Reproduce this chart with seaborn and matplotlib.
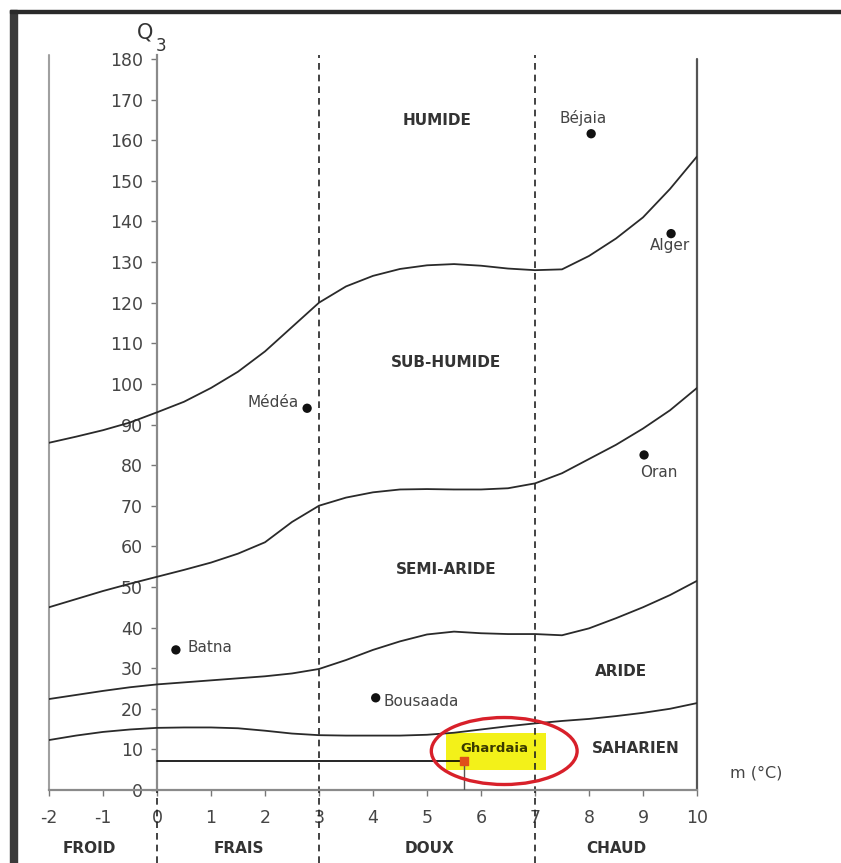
import numpy as np
import pandas as pd
import matplotlib.pyplot as plt
import matplotlib.patches as mpatches
import seaborn as sns

# ==========================================
# DATA (read from the climagramme)
# ==========================================

m_values = [-2, -1.5, -1, -0.5, 0, 0.5, 1, 1.5, 2, 2.5, 3, 3.5, 4, 4.5,
            5, 5.5, 6, 6.5, 7, 7.5, 8, 8.5, 9, 9.5, 10]

limit_humide = [85.5, 87, 88.6, 90.5, 93, 95.6, 99, 103, 108, 114, 120, 124,
                126.6, 128.3, 129.2, 129.5, 129.1, 128.4, 128, 128.2, 131.5,
                135.8, 141, 148, 156]
limit_subhumide = [45, 47, 49, 50.8, 52.5, 54.2, 56, 58.2, 61, 66, 70, 72,
                   73.3, 74, 74.1, 74, 74, 74.3, 75.5, 78, 81.5, 85, 89,
                   93.5, 99]
limit_semiaride = [22.4, 23.4, 24.4, 25.3, 26, 26.5, 27, 27.5, 28, 28.7, 29.8,
                   32, 34.5, 36.6, 38.3, 39, 38.6, 38.4, 38.4, 38.1, 39.8,
                   42.3, 45, 48, 51.5]
limit_aride = [12.3, 13.4, 14.3, 14.9, 15.3, 15.4, 15.4, 15.2, 14.6, 13.9,
               13.5, 13.4, 13.4, 13.4, 13.6, 14.1, 14.9, 15.7, 16.4, 17,
               17.5, 18.2, 19, 20, 21.4]

stations = ["Béjaia", "Alger", "Médéa", "Oran", "Batna", "Bousaada"]
station_m = [8.04, 9.52, 2.78, 9.02, 0.35, 4.05]
station_q = [161.6, 137, 94, 82.5, 34.5, 22.7]

ghardaia_m = 5.68
ghardaia_q = 7.1

zones = ["HUMIDE", "SUB-HUMIDE", "SEMI-ARIDE", "ARIDE", "SAHARIEN"]
zone_m = [5.19, 5.35, 5.35, 8.59, 8.87]
zone_q = [164.8, 105.2, 54.4, 29.1, 10.3]

winters = ["FROID", "FRAIS", "DOUX", "CHAUD"]
winter_m = [-1.26, 1.52, 5.04, 8.5]
winter_bounds = [0, 3, 7]

x_ticks = list(range(-2, 11))
y_ticks = list(range(0, 190, 10))

# ==========================================
# FIGURE
# ==========================================

sns.set_theme(style="ticks")
plt.rcParams["font.family"] = ["DejaVu Sans"]
plt.rcParams["axes.unicode_minus"] = False

W, H = 841, 863
fig = plt.figure(figsize=(W / 100, H / 100), dpi=100)
ax = fig.add_axes([49 / W, (H - 790) / H, (697 - 49) / W, (790 - 59) / H])

curves = pd.DataFrame({
    "m": m_values * 4,
    "Q3": limit_humide + limit_subhumide + limit_semiaride + limit_aride,
    "limite": (["h"] * len(m_values) + ["sh"] * len(m_values)
               + ["sa"] * len(m_values) + ["a"] * len(m_values)),
})

sns.lineplot(data=curves, x="m", y="Q3", units="limite", estimator=None,
             color="#2a2a2a", linewidth=1.3, ax=ax, legend=False, zorder=3)

# Ghardaia highlight
ax.add_patch(mpatches.Rectangle((5.35, 4.9), 1.85, 9.1, facecolor="#f2f000",
                                edgecolor="none", alpha=0.9, zorder=1))
ax.add_patch(mpatches.Ellipse((6.43, 9.6), 2.7, 16.5, facecolor="none",
                              edgecolor="#d8202a", linewidth=2.4, zorder=5,
                              clip_on=False))

# reading lines for Ghardaia
ax.plot([0, ghardaia_m], [ghardaia_q, ghardaia_q], color="black",
        linewidth=1.2, zorder=4)
ax.plot([ghardaia_m, ghardaia_m], [0, ghardaia_q], color="#555555",
        linewidth=1.0, zorder=4)
ax.scatter([ghardaia_m], [ghardaia_q], marker="s", s=30, color="#e0501a",
           zorder=6)
ax.text(6.24, 10.1, "Ghardaia", fontsize=9.5, fontweight="bold",
        color="#3a3a00", ha="center", va="center", zorder=6)

# stations
st = pd.DataFrame({"m": station_m, "Q3": station_q, "station": stations})
sns.scatterplot(data=st, x="m", y="Q3", color="#111111", s=45,
                edgecolor="none", ax=ax, zorder=6, legend=False)

label_pos = {
    "Béjaia": (7.9, 165.5, "center"),
    "Alger": (9.5, 134, "center"),
    "Médéa": (2.63, 95.3, "right"),
    "Oran": (9.3, 78.3, "center"),
    "Batna": (0.56, 35, "left"),
    "Bousaada": (4.2, 21.7, "left"),
}
for name in stations:
    lx, ly, ha = label_pos[name]
    ax.text(lx, ly, name, fontsize=11, color="#444444", ha=ha, va="center")

# zone names
for name, zx, zy in zip(zones, zone_m, zone_q):
    ax.text(zx, zy, name, fontsize=11, fontweight="bold", color="#333333",
            ha="center", va="center")

# winter classes below axis
for name, wx in zip(winters, winter_m):
    ax.text(wx, -14.3, name, fontsize=11, fontweight="bold", color="#333333",
            ha="center", va="center", clip_on=False)

# dashed boundaries
for b in winter_bounds:
    top = 181 if b != 0 else 0
    ax.plot([b, b], [-18, top], color="#222222", linewidth=1.2,
            linestyle=(0, (4, 3)), clip_on=False, zorder=2)

# frame lines of the diagram
ax.plot([-2, -2], [0, 181], color="#a0a0a0", linewidth=1.5, clip_on=False)
ax.plot([10, 10], [0, 180], color="#555555", linewidth=1.6, clip_on=False)

ax.set_xlim(-2, 10)
ax.set_ylim(0, 180)
ax.set_xticks(x_ticks)
ax.set_yticks(y_ticks)
ax.set_xlabel("")
ax.set_ylabel("")

ax.spines["top"].set_visible(False)
ax.spines["right"].set_visible(False)
ax.spines["left"].set_position(("data", 0))
ax.spines["left"].set_bounds(0, 181)
for s in ["left", "bottom"]:
    ax.spines[s].set_color("#8a8a8a")
    ax.spines[s].set_linewidth(1.6)

ax.tick_params(axis="both", colors="#777777", length=4, width=1,
               labelsize=12.5, labelcolor="#454545")
ax.tick_params(axis="x", pad=10)
ax.tick_params(axis="y", pad=6)

# Q3 and m (°C) axis names
ax.text(-0.22, 186.5, "Q", fontsize=15, color="#333333", ha="center",
        va="center", clip_on=False)
ax.text(0.08, 183.3, "3", fontsize=12, color="#333333", ha="center",
        va="center", clip_on=False)
ax.text(11.09, 4.2, "m (°C)", fontsize=11.5, color="#444444", ha="center",
        va="center", clip_on=False)

# scan border (left bar and top line)
fig.add_artist(mpatches.Rectangle((10 / W, 0), 7 / W, 1 - 10 / H,
                                  transform=fig.transFigure,
                                  color="#3a3a3a"))
fig.add_artist(mpatches.Rectangle((10 / W, 1 - 13 / H), 1, 3 / H,
                                  transform=fig.transFigure,
                                  color="#2a2a2a"))

plt.savefig("out.png", dpi=100)
